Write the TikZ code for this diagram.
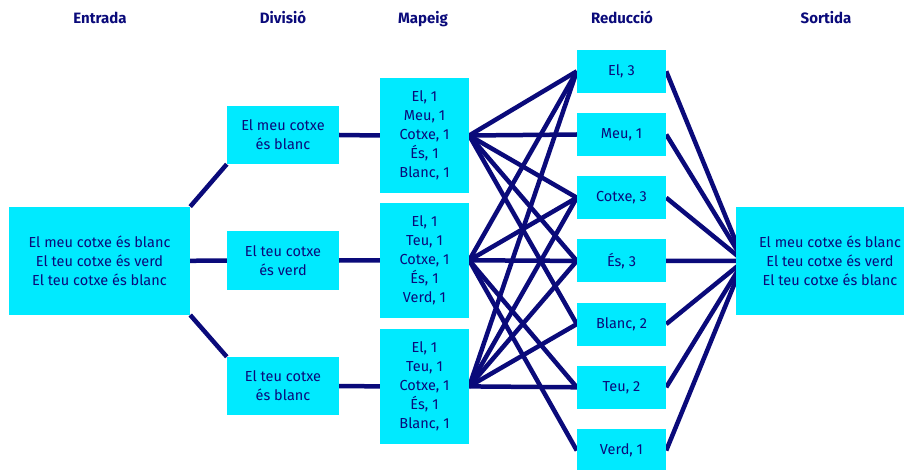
\documentclass[tikz,border=0pt]{standalone}
\usepackage{fontspec}
\setmainfont{Fira Sans}
\usetikzlibrary{backgrounds,calc}
\definecolor{boxcyan}{RGB}{0,234,255}
\definecolor{navy}{RGB}{10,10,122}

\begin{document}
\begin{tikzpicture}[x=1pt,y=-1pt,
  box/.style={fill=boxcyan, text=navy, inner sep=0pt, align=center,
    font=\fontsize{14.5}{19}\selectfont},
  inbox/.style={box, minimum width=181pt, minimum height=108pt},
  splitbox/.style={box, minimum width=112pt, minimum height=58pt},
  mapbox/.style={box, minimum width=89pt, minimum height=114.5pt},
  redbox/.style={box, minimum width=89pt, minimum height=43pt},
  outbox/.style={box, minimum width=188pt, minimum height=108pt},
  head/.style={text=navy, anchor=base, font=\fontsize{15}{18}\selectfont\bfseries},
  link/.style={draw=navy, line width=4.5pt}]
\useasboundingbox (0,0) rectangle (904,470);
\clip (0,0) rectangle (904,470);

% column titles
\node[head] (hin)  at (100,23.3) {Entrada};
\node[head] (hsp)  at (283,23.3) {Divisió};
\node[head] (hmap) at (423,23.3) {Mapeig};
\node[head] (hred) at (622,23.3) {Reducció};
\node[head] (hout) at (826,23.3) {Sortida};

% input
\node[inbox] (in) at (99.5,260.8) {El meu cotxe és blanc\\El teu cotxe és verd\\El teu cotxe és blanc};

% splitting
\node[splitbox] (s1) at (283,135)   {El meu cotxe\\és blanc};
\node[splitbox] (s2) at (283,260.5) {El teu cotxe\\és verd};
\node[splitbox] (s3) at (283,386)   {El teu cotxe\\és blanc};

% mapping
\node[mapbox] (m1) at (424.5,135.5) {El, 1\\Meu, 1\\Cotxe, 1\\És, 1\\Blanc, 1};
\node[mapbox] (m2) at (424.5,260.3) {El, 1\\Teu, 1\\Cotxe, 1\\És, 1\\Verd, 1};
\node[mapbox] (m3) at (424.5,386.4) {El, 1\\Teu, 1\\Cotxe, 1\\És, 1\\Blanc, 1};

% reduction
\node[redbox] (rEl)    at (621.5,71.3)  {El, 3};
\node[redbox] (rMeu)   at (621.5,134.5) {Meu, 1};
\node[redbox] (rCotxe) at (621.5,197.7) {Cotxe, 3};
\node[redbox] (rEs)    at (621.5,260.9) {És, 3};
\node[redbox] (rBlanc) at (621.5,324.1) {Blanc, 2};
\node[redbox] (rTeu)   at (621.5,387.3) {Teu, 2};
\node[redbox] (rVerd)  at (621.5,450.5) {Verd, 1};

% output
\node[outbox] (out) at (830,261) {El meu cotxe és blanc\\El teu cotxe és verd\\El teu cotxe és blanc};
\coordinate (outjoin) at ($(out.west)+(8,0)$);

\begin{pgfonlayer}{background}
  % input to splits
  \draw[link] (in.north east) -- (s1.south west);
  \draw[link] (in.east) -- (s2.west);
  \draw[link] (in.south east) -- (s3.north west);
  % splits to maps
  \draw[link] (s1.east) -- (m1.west);
  \draw[link] (s2.east) -- (m2.west);
  \draw[link] (s3.east) -- (m3.west);
  % shuffle
  \foreach \r in {rEl,rMeu,rCotxe,rEs,rBlanc}
    \draw[link] (m1.east) -- (\r.west);
  \foreach \r in {rEl,rTeu,rCotxe,rEs,rVerd}
    \draw[link] (m2.east) -- (\r.west);
  \foreach \r in {rEl,rTeu,rCotxe,rEs,rBlanc}
    \draw[link] (m3.east) -- (\r.west);
  % reductions to output
  \foreach \r in {rEl,rMeu,rCotxe,rEs,rBlanc,rTeu,rVerd}
    \draw[link] (\r.east) -- (outjoin);
\end{pgfonlayer}
\end{tikzpicture}
\end{document}
